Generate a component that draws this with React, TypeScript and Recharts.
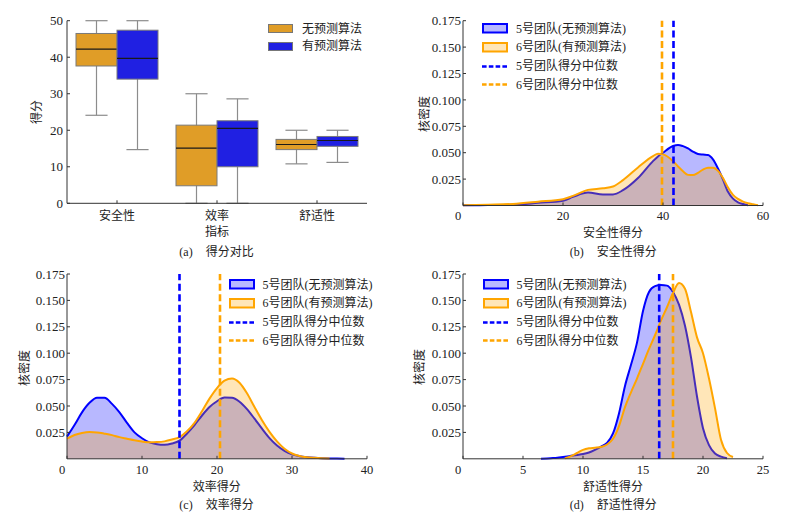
import React from 'react';
import { ComposedChart, Bar, Area, XAxis, YAxis, ReferenceLine } from 'recharts';

const FONT = "'Liberation Serif', 'Times New Roman', 'Noto Sans CJK SC', serif";
const BLUE = '#0000ff';
const ORANGE = '#ffa500';
const BOX_ORANGE = '#e09d27';
const BOX_BLUE = '#2020e2';
const AXIS = '#333';

// (a) box plot: [min, q1, median, q3, max]
const boxCats = ['安全性', '效率', '舒适性'];
const noPredBox = [
  [24.1, 37.6, 42.2, 46.5, 50],
  [0, 4.8, 15.1, 21.4, 30.0],
  [10.8, 14.7, 16.1, 17.5, 20.0],
];
const predBox = [
  [14.7, 34.0, 39.7, 47.4, 50],
  [0, 10.0, 20.5, 22.6, 28.6],
  [11.2, 15.6, 17.2, 18.3, 20.0],
];
const boxTicks = [0, 10, 20, 30, 40, 50];
const boxLegend = ['无预测算法', '有预测算法'];

// KDE panels
const densTicks = [0.025, 0.05, 0.075, 0.1, 0.125, 0.15, 0.175];
const kdeLegend = ['5号团队(无预测算法)', '6号团队(有预测算法)', '5号团队得分中位数', '6号团队得分中位数'];

// (b) safety
const safetyX = [0, 5, 10, 15, 20, 22, 25, 28, 30, 32, 35, 38, 39, 40, 42, 43, 44, 45, 46, 47, 48, 49, 50, 51, 52, 53, 54, 55, 56, 57, 58, 59];
const safetyTeam5 = [0.0002, 0.0004, 0.0008, 0.0025, 0.0045, 0.0082, 0.0123, 0.0105, 0.0105, 0.0145, 0.026, 0.042, 0.0465, 0.05, 0.0563, 0.0574, 0.0562, 0.054, 0.051, 0.0488, 0.0482, 0.0478, 0.0436, 0.035, 0.0245, 0.013, 0.0065, 0.003, 0.0014, 0.0003, null, null];
const safetyTeam6 = [0.0003, 0.0008, 0.0015, 0.0036, 0.006, 0.0091, 0.0148, 0.0163, 0.018, 0.024, 0.036, 0.0468, 0.049, 0.0484, 0.042, 0.037, 0.0324, 0.029, 0.0288, 0.031, 0.034, 0.0358, 0.0358, 0.0328, 0.026, 0.017, 0.01, 0.0062, 0.0037, 0.0022, 0.0012, 0.0003];
const safetyMed = [42.1, 39.8];

// (c) efficiency
const effX = [0, 1, 2, 3, 4, 5, 6, 7, 8, 9, 10, 11, 12, 13, 14, 15, 16, 17, 18, 19, 20, 21, 22, 23, 24, 25, 26, 27, 28, 29, 30, 31, 32, 33, 34, 35, 36, 37];
const effTeam5 = [0.021, 0.032, 0.044, 0.053, 0.0578, 0.0578, 0.052, 0.044, 0.034, 0.025, 0.0195, 0.0155, 0.0138, 0.0133, 0.0145, 0.0172, 0.024, 0.032, 0.041, 0.049, 0.0545, 0.058, 0.0578, 0.054, 0.047, 0.038, 0.0285, 0.0195, 0.0125, 0.0075, 0.0042, 0.0025, 0.0015, 0.0009, 0.0005, 0.0003, 0.0002, 0.0001];
const effTeam6 = [0.019, 0.0225, 0.0245, 0.0254, 0.025, 0.0238, 0.0224, 0.0205, 0.019, 0.0175, 0.0163, 0.0156, 0.0158, 0.0165, 0.0182, 0.0205, 0.026, 0.034, 0.045, 0.057, 0.067, 0.074, 0.076, 0.072, 0.062, 0.049, 0.0365, 0.0255, 0.0165, 0.0095, 0.005, 0.0027, 0.0015, 0.0009, 0.0005, 0.0002, null, null];
const effMed = [15.0, 20.4];

// (d) comfort
const comfX = [6.5, 7, 7.5, 8, 8.5, 9, 9.5, 10, 10.5, 11, 11.5, 12, 12.5, 13, 13.5, 14, 14.5, 15, 15.5, 16, 16.5, 17, 17.5, 18, 18.5, 19, 19.5, 20, 20.5, 21, 21.5, 22, 22.5, 23];
const comfTeam5 = [0, 0.0003, 0.0007, 0.0013, 0.002, 0.0028, 0.0036, 0.0045, 0.006, 0.0085, 0.0115, 0.015, 0.024, 0.043, 0.069, 0.089, 0.11, 0.14, 0.158, 0.1635, 0.1645, 0.164, 0.158, 0.146, 0.126, 0.096, 0.059, 0.029, 0.013, 0.005, 0.002, 0.0005, null, null];
const comfTeam6 = [null, null, null, null, 0.0005, 0.0025, 0.0055, 0.0085, 0.01, 0.0105, 0.0112, 0.0135, 0.019, 0.031, 0.049, 0.063, 0.076, 0.09, 0.104, 0.117, 0.131, 0.1435, 0.157, 0.1665, 0.161, 0.139, 0.115, 0.1, 0.076, 0.048, 0.018, 0.0055, 0.0017, null];
const comfMed = [16.35, 17.5];

const boxData = boxCats.map((cat, i) => ({
  cat,
  noRange: [noPredBox[i][0], noPredBox[i][4]],
  predRange: [predBox[i][0], predBox[i][4]],
  noStats: noPredBox[i],
  predStats: predBox[i],
}));

const toRows = (xs: number[], a: (number | null)[], b: (number | null)[]) =>
  xs.map((x, i) => ({ x, a: a[i], b: b[i] }));

// draws whiskers, box and median inside the range bar the library laid out
const makeBoxShape = (statsKey: string, fill: string) => (props: any) => {
  const { x, y, width, height, payload } = props;
  const [mn, q1, med, q3, mx] = payload[statsKey];
  const py = (v: number) => y + (height * (mx - v)) / (mx - mn);
  const cx = x + width / 2;
  const cap = width * 0.27;
  const wc = '#8c8c8c';
  return (
    <g>
      <line x1={cx} x2={cx} y1={py(mx)} y2={py(mn)} stroke={wc} strokeWidth={1.2} />
      <line x1={cx - cap} x2={cx + cap} y1={py(mx)} y2={py(mx)} stroke={wc} strokeWidth={1.2} />
      <line x1={cx - cap} x2={cx + cap} y1={py(mn)} y2={py(mn)} stroke={wc} strokeWidth={1.2} />
      <rect x={x} y={py(q3)} width={width} height={py(q1) - py(q3)} fill={fill} stroke="#7a7a7a" strokeWidth={1} />
      <line x1={x} x2={x + width} y1={py(med)} y2={py(med)} stroke="#1a1a1a" strokeWidth={1.2} />
    </g>
  );
};

const XNumTick = (props: any) => {
  const { x, y, payload } = props;
  return (
    <text x={payload.value === 0 ? x - 5 : x} y={y} dy="0.71em" textAnchor="middle" fill="#222" fontSize={12.5}>
      {payload.value}
    </text>
  );
};

const Txt = ({ cx, cy, children, rotate = false, size = 12 }: any) => (
  <div
    style={{
      position: 'absolute',
      left: cx,
      top: cy,
      transform: `translate(-50%, -50%)${rotate ? ' rotate(-90deg)' : ''}`,
      whiteSpace: 'nowrap',
      fontSize: size,
      lineHeight: 1,
    }}
  >
    {children}
  </div>
);

const Caption = ({ cx, cy, tag, text }: any) => (
  <Txt cx={cx} cy={cy}>
    <span>{tag}</span>
    <span style={{ marginLeft: 13 }}>{text}</span>
  </Txt>
);

const KdeLegend = ({ x, y }: { x: number; y: number }) => {
  const step = 18.8;
  const swatch = (i: number) => {
    if (i < 2) {
      const c = i === 0 ? BLUE : ORANGE;
      return (
        <svg width={27} height={11} style={{ display: 'block' }}>
          <rect x={1} y={1} width={24} height={8.5} fill={c} fillOpacity={0.28} stroke={c} strokeWidth={2} />
        </svg>
      );
    }
    const c = i === 2 ? BLUE : ORANGE;
    return (
      <svg width={27} height={11} style={{ display: 'block' }}>
        <line x1={0} x2={26} y1={5.5} y2={5.5} stroke={c} strokeWidth={2.5} strokeDasharray="4.6 2.2" />
      </svg>
    );
  };
  return (
    <>
      {kdeLegend.map((label, i) => (
        <div key={label} style={{ position: 'absolute', left: x, top: y + i * step, transform: 'translateY(-50%)', display: 'flex', alignItems: 'center' }}>
          {swatch(i)}
          <span style={{ marginLeft: 7, fontSize: 12, lineHeight: 1, whiteSpace: 'nowrap' }}>{label}</span>
        </div>
      ))}
    </>
  );
};

const KdeChart = ({ left, top, height, marginTop, marginBottom, rows, domain, ticks, med }: any) => (
  <div style={{ position: 'absolute', left, top }}>
    <ComposedChart width={397} height={height} data={rows} margin={{ top: marginTop, right: 30, bottom: marginBottom, left: 0 }}>
      <XAxis
        type="number"
        dataKey="x"
        domain={domain}
        ticks={ticks}
        interval={0}
        height={30}
        axisLine={{ stroke: AXIS }}
        tickLine={{ stroke: AXIS }}
        tickSize={-3}
        tickMargin={9}
        tick={<XNumTick />}
      />
      <YAxis
        type="number"
        domain={[0, 0.175]}
        ticks={densTicks}
        interval={0}
        width={67}
        axisLine={{ stroke: AXIS }}
        tickLine={{ stroke: AXIS }}
        tickSize={-3}
        tickMargin={5}
        tick={{ fill: '#222', fontSize: 13 }}
        tickFormatter={(v: number) => v.toFixed(3)}
      />
      <Area type="monotone" dataKey="a" stroke={BLUE} strokeWidth={2} fill={BLUE} fillOpacity={0.28} dot={false} activeDot={false} isAnimationActive={false} />
      <Area type="monotone" dataKey="b" stroke={ORANGE} strokeWidth={2} fill={ORANGE} fillOpacity={0.28} dot={false} activeDot={false} isAnimationActive={false} />
      <ReferenceLine x={med[0]} stroke={BLUE} strokeWidth={2.6} strokeDasharray="7 3.5" />
      <ReferenceLine x={med[1]} stroke={ORANGE} strokeWidth={2.6} strokeDasharray="7 3.5" />
    </ComposedChart>
  </div>
);

export default function App() {
  return (
    <div style={{ position: 'absolute', left: 0, top: 0, width: 793, height: 519, background: '#fff', fontFamily: FONT, color: '#222', overflow: 'hidden' }}>
      {/* (a) */}
      <div style={{ position: 'absolute', left: 0, top: 0 }}>
        <ComposedChart width={396} height={262} data={boxData} margin={{ top: 20.7, right: 29, bottom: 28.7, left: 0 }} barCategoryGap="9%" barGap={0}>
          <XAxis
            dataKey="cat"
            height={30}
            axisLine={{ stroke: AXIS }}
            tickLine={{ stroke: AXIS }}
            tickSize={-3}
            tickMargin={11}
            tick={{ fill: '#222', fontSize: 12 }}
          />
          <YAxis
            type="number"
            domain={[0, 50]}
            ticks={boxTicks}
            interval={0}
            width={67}
            axisLine={{ stroke: AXIS }}
            tickLine={{ stroke: AXIS }}
            tickSize={-3}
            tickMargin={7}
            tick={{ fill: '#222', fontSize: 13 }}
          />
          <Bar dataKey="noRange" fill={BOX_ORANGE} shape={makeBoxShape('noStats', BOX_ORANGE)} isAnimationActive={false} />
          <Bar dataKey="predRange" fill={BOX_BLUE} shape={makeBoxShape('predStats', BOX_BLUE)} isAnimationActive={false} />
        </ComposedChart>
      </div>
      {boxLegend.map((label, i) => (
        <div key={label} style={{ position: 'absolute', left: 268, top: 28.7 + i * 17.5, transform: 'translateY(-50%)', display: 'flex', alignItems: 'center' }}>
          <div style={{ width: 25, height: 9, background: i === 0 ? BOX_ORANGE : BOX_BLUE, border: '0.8px solid #777', boxSizing: 'border-box' }} />
          <span style={{ marginLeft: 9, fontSize: 12, lineHeight: 1, whiteSpace: 'nowrap' }}>{label}</span>
        </div>
      ))}
      <Txt cx={36.7} cy={112} rotate>得分</Txt>
      <Txt cx={217} cy={231.7}>指标</Txt>
      <Caption cx={216.5} cy={251.7} tag="(a)" text="得分对比" />

      {/* (b) */}
      <KdeChart left={396} top={0} height={262} marginTop={20.7} marginBottom={26.5} rows={toRows(safetyX, safetyTeam5, safetyTeam6)} domain={[0, 60]} ticks={[0, 20, 40, 60]} med={safetyMed} />
      <KdeLegend x={482} y={28.5} />
      <Txt cx={425} cy={114} rotate>核密度</Txt>
      <Txt cx={613} cy={233.3}>安全性得分</Txt>
      <Caption cx={613.3} cy={252} tag="(b)" text="安全性得分" />

      {/* (c) */}
      <KdeChart left={0} top={262} height={257} marginTop={12} marginBottom={30.2} rows={toRows(effX, effTeam5, effTeam6)} domain={[0, 40]} ticks={[0, 10, 20, 30, 40]} med={effMed} />
      <KdeLegend x={228.5} y={284.5} />
      <Txt cx={24.5} cy={368} rotate>核密度</Txt>
      <Txt cx={216.7} cy={486.7}>效率得分</Txt>
      <Caption cx={216.5} cy={505} tag="(c)" text="效率得分" />

      {/* (d) */}
      <KdeChart left={396} top={262} height={257} marginTop={12} marginBottom={30.2} rows={toRows(comfX, comfTeam5, comfTeam6)} domain={[0, 25]} ticks={[0, 5, 10, 15, 20, 25]} med={comfMed} />
      <KdeLegend x={482.5} y={284.5} />
      <Txt cx={420} cy={367} rotate>核密度</Txt>
      <Txt cx={613} cy={486.7}>舒适性得分</Txt>
      <Caption cx={613.3} cy={505} tag="(d)" text="舒适性得分" />
    </div>
  );
}
